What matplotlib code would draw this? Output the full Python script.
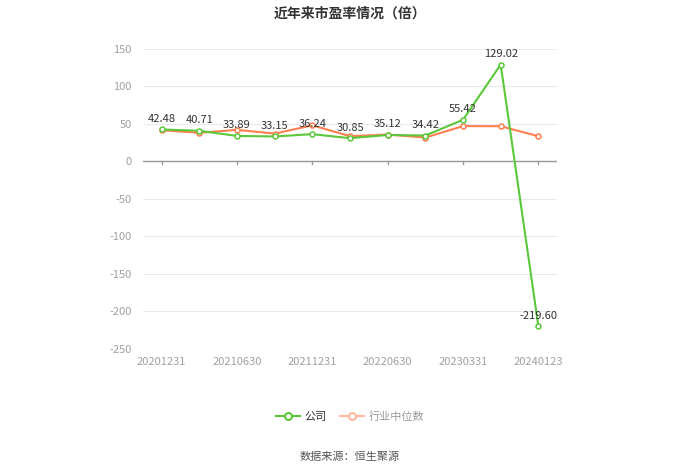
import matplotlib.pyplot as plt
from matplotlib.lines import Line2D

plt.rcParams['font.family'] = ['Noto Sans CJK SC', 'DejaVu Sans']

# data
dates = ['20201231', '20210331', '20210630', '20210930', '20211231', '20220331',
         '20220630', '20221231', '20230331', '20230930', '20240123']
company = [42.48, 40.71, 33.89, 33.15, 36.24, 30.85, 35.12, 34.42, 55.42, 129.02, -219.60]
industry = [41.5, 38.0, 42.0, 37.0, 48.0, 33.5, 35.7, 31.7, 47.0, 46.8, 33.5]
yticks = [-250, -200, -150, -100, -50, 0, 50, 100, 150]

green = '#5cc73a'
orange = '#ff7f50'

fig = plt.figure(figsize=(7, 4.74), dpi=100)
ax = fig.add_axes([0.204, 0.264, 0.592, 0.633])

x = list(range(len(dates)))
ax.plot(x, industry, color=orange, lw=1.5, marker='o', ms=3.6,
        markerfacecolor='white', markeredgewidth=1.1, zorder=3)
ax.plot(x, company, color=green, lw=1.5, marker='o', ms=3.6,
        markerfacecolor='white', markeredgewidth=1.1, zorder=4)

for xi, v in zip(x, company):
    ax.annotate(f'{v:.2f}', (xi, v), xytext=(0, 4), textcoords='offset points',
                ha='center', va='bottom', fontsize=8, color='#333333', zorder=5)

ax.set_xlim(-0.5, len(dates) - 0.5)
ax.set_ylim(-250, 150)
ax.set_yticks(yticks)
ax.set_yticklabels([str(t) for t in yticks])
ax.set_xticks(x[::2])
ax.set_xticklabels(dates[::2])
ax.grid(axis='y', color='#e6eaf2', lw=0.8)
ax.set_axisbelow(True)

for s in ['top', 'right', 'left', 'bottom']:
    ax.spines[s].set_visible(False)
ax.axhline(0, color='#999999', lw=1, zorder=2)
for xi in x[::2]:
    ax.plot([xi, xi], [0, -4], color='#999999', lw=1, zorder=2, clip_on=False)

ax.tick_params(axis='y', length=0, labelsize=8, labelcolor='#a0a0a0', pad=8)
ax.tick_params(axis='x', length=0, labelsize=8, labelcolor='#a0a0a0', pad=6)

fig.text(0.5, 0.972, '近年来市盈率情况（倍）', ha='center', va='center',
         fontsize=10, fontweight='bold', color='#333333')

handles = [
    Line2D([0], [0], color=green, lw=1.5, marker='o', ms=5,
           markerfacecolor='white', markeredgewidth=1.5),
    Line2D([0], [0], color='#ffb89e', lw=1.5, marker='o', ms=5,
           markerfacecolor='white', markeredgewidth=1.5),
]
fig.legend(handles, ['公司', '行业中位数'], loc='center', bbox_to_anchor=(0.5, 0.122),
           ncol=2, frameon=False, fontsize=8, handlelength=2.2, columnspacing=1.2,
           handletextpad=0.4, labelcolor=['#333333', '#999999'])

fig.text(0.5, 0.036, '数据来源：恒生聚源', ha='center', va='center',
         fontsize=8, color='#555555')

fig.savefig('out.png', dpi=100)
